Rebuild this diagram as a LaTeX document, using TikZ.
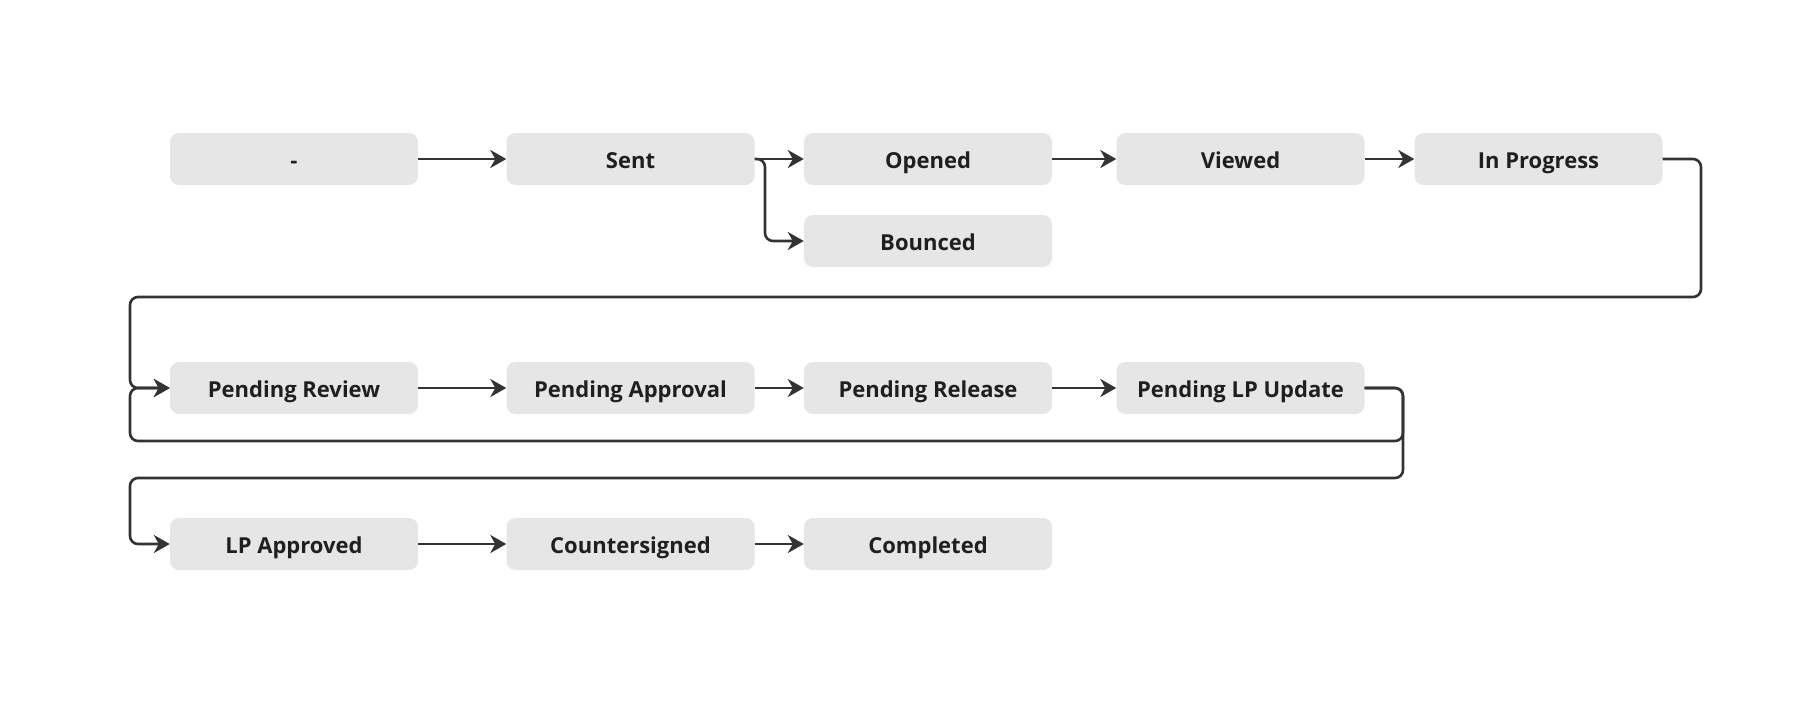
\documentclass[tikz,border=0pt]{standalone}
\usepackage{fontspec}
\setmainfont{Open Sans}
\usetikzlibrary{arrows.meta}
\definecolor{boxfill}{HTML}{E6E6E6}
\definecolor{linec}{HTML}{333333}
\definecolor{txtc}{HTML}{1F1F1F}
\tikzset{
  stbox/.style={fill=boxfill, rounded corners=9pt, minimum width=248pt, minimum height=52pt,
    inner sep=0pt, text height=19pt, text depth=0pt, text=txtc,
    font=\fontsize{22}{26}\selectfont\bfseries},
  conn/.style={draw=linec, line width=2.6pt, rounded corners=8pt,
    -{Stealth[length=16pt,width=18pt,inset=5pt]}}
}
\begin{document}
\begin{tikzpicture}[x=1pt,y=-1pt]
\useasboundingbox (0,0) rectangle (1811,713);
% row 1
\node[stbox] (dash) at (294,159) {-};
\node[stbox] (sent) at (630.5,159) {Sent};
\node[stbox] (opened) at (928,159) {Opened};
\node[stbox] (viewed) at (1240.5,159) {Viewed};
\node[stbox] (inprog) at (1538.5,159) {In Progress};
\node[stbox] (bounced) at (928,241) {Bounced};
% row 2
\node[stbox] (prev) at (294,388) {Pending Review};
\node[stbox] (pappr) at (630.5,388) {Pending Approval};
\node[stbox] (prel) at (928,388) {Pending Release};
\node[stbox] (plpu) at (1240.5,388) {Pending LP Update};
% row 3
\node[stbox] (lpa) at (294,544) {LP Approved};
\node[stbox] (cs) at (630.5,544) {Countersigned};
\node[stbox] (comp) at (928,544) {Completed};
% connectors
\draw[conn] (dash) -- (sent);
\draw[conn] (sent) -- (opened);
\draw[conn] (sent.east) -| (765,241) -- (bounced.west);
\draw[conn] (opened) -- (viewed);
\draw[conn] (viewed) -- (inprog);
\draw[conn] (inprog.east) -- (1701,159) -- (1701,297) -- (130,297) -- (130,388) -- (prev.west);
\draw[conn] (prev) -- (pappr);
\draw[conn] (pappr) -- (prel);
\draw[conn] (prel) -- (plpu);
\draw[conn] (plpu.east) -- (1403,388) -- (1403,441) -- (130,441) -- (130,388) -- (prev.west);
\draw[conn] (plpu.east) -- (1403,388) -- (1403,478) -- (130,478) -- (130,544) -- (lpa.west);
\draw[conn] (lpa) -- (cs);
\draw[conn] (cs) -- (comp);
\end{tikzpicture}
\end{document}
